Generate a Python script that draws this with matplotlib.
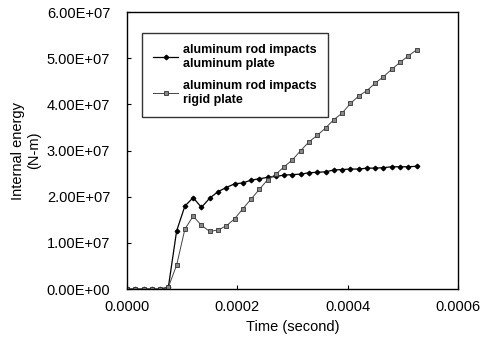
import matplotlib
matplotlib.use("Agg")
import matplotlib.pyplot as plt
from matplotlib.ticker import FuncFormatter

plt.rcParams['font.family'] = ['Liberation Sans', 'DejaVu Sans']

time_s = [0.0, 1.5e-5, 3.0e-5, 4.5e-5, 6.0e-5, 7.5e-5, 9.0e-5, 1.05e-4, 1.2e-4,
          1.35e-4, 1.5e-4, 1.65e-4, 1.8e-4, 1.95e-4, 2.1e-4, 2.25e-4, 2.4e-4,
          2.55e-4, 2.7e-4, 2.85e-4, 3.0e-4, 3.15e-4, 3.3e-4, 3.45e-4, 3.6e-4,
          3.75e-4, 3.9e-4, 4.05e-4, 4.2e-4, 4.35e-4, 4.5e-4, 4.65e-4, 4.8e-4,
          4.95e-4, 5.1e-4, 5.25e-4]

al_plate = [0, 0, 0, 0, 0, 0.04e7, 1.26e7, 1.80e7, 1.98e7, 1.77e7, 1.97e7, 2.11e7,
            2.20e7, 2.28e7, 2.30e7, 2.36e7, 2.39e7, 2.42e7, 2.44e7, 2.47e7,
            2.48e7, 2.49e7, 2.52e7, 2.53e7, 2.54e7, 2.58e7, 2.59e7, 2.60e7,
            2.60e7, 2.62e7, 2.62e7, 2.63e7, 2.65e7, 2.65e7, 2.65e7, 2.66e7]

rigid_plate = [0, 0, 0, 0, 0, 0.04e7, 0.52e7, 1.30e7, 1.58e7, 1.38e7, 1.25e7,
               1.28e7, 1.37e7, 1.52e7, 1.74e7, 1.95e7, 2.16e7, 2.37e7, 2.49e7,
               2.65e7, 2.80e7, 3.00e7, 3.19e7, 3.33e7, 3.49e7, 3.67e7, 3.81e7,
               4.02e7, 4.18e7, 4.30e7, 4.46e7, 4.60e7, 4.76e7, 4.91e7, 5.05e7,
               5.18e7]

labels = ["aluminum rod impacts\naluminum plate",
          "aluminum rod impacts\nrigid plate"]

x_ticks = [0.0, 0.0002, 0.0004, 0.0006]
y_ticks = [0, 1e7, 2e7, 3e7, 4e7, 5e7, 6e7]

fig = plt.figure(figsize=(4.81, 3.45), dpi=100)
ax = fig.add_axes([0.264, 0.162, 0.688, 0.803])

ax.plot(time_s, al_plate, color='black', lw=0.9, marker='D', ms=2.3,
        mfc='black', mec='black', label=labels[0])
ax.plot(time_s, rigid_plate, color='#444444', lw=0.7, marker='s', ms=2.8,
        mfc='#888888', mec='#333333', mew=0.6, label=labels[1])

ax.set_xlim(0, 0.0006)
ax.set_ylim(0, 6e7)
ax.set_xticks(x_ticks)
ax.set_yticks(y_ticks)
ax.xaxis.set_major_formatter(FuncFormatter(lambda v, p: f"{v:.4f}"))
ax.yaxis.set_major_formatter(FuncFormatter(lambda v, p: f"{v:.2E}"))
ax.tick_params(axis='y', direction='in', length=3, pad=12, labelsize=10.5)
ax.tick_params(axis='x', direction='in', length=3, pad=8, labelsize=10.5)
for s in ax.spines.values():
    s.set_linewidth(1.0)

ax.set_xlabel("Time (second)", fontsize=10.5, labelpad=4)
ax.set_ylabel("Internal energy\n(N-m)", fontsize=10.5, labelpad=4)

leg = ax.legend(loc='upper left', bbox_to_anchor=(0.045, 0.925), frameon=True,
                fancybox=False, edgecolor='black', prop={'weight': 'bold', 'size': 9},
                handlelength=2.0, handletextpad=0.4, labelspacing=0.8,
                borderpad=0.9, borderaxespad=0)
leg.get_frame().set_linewidth(1.0)

fig.savefig("out.png", dpi=100)
